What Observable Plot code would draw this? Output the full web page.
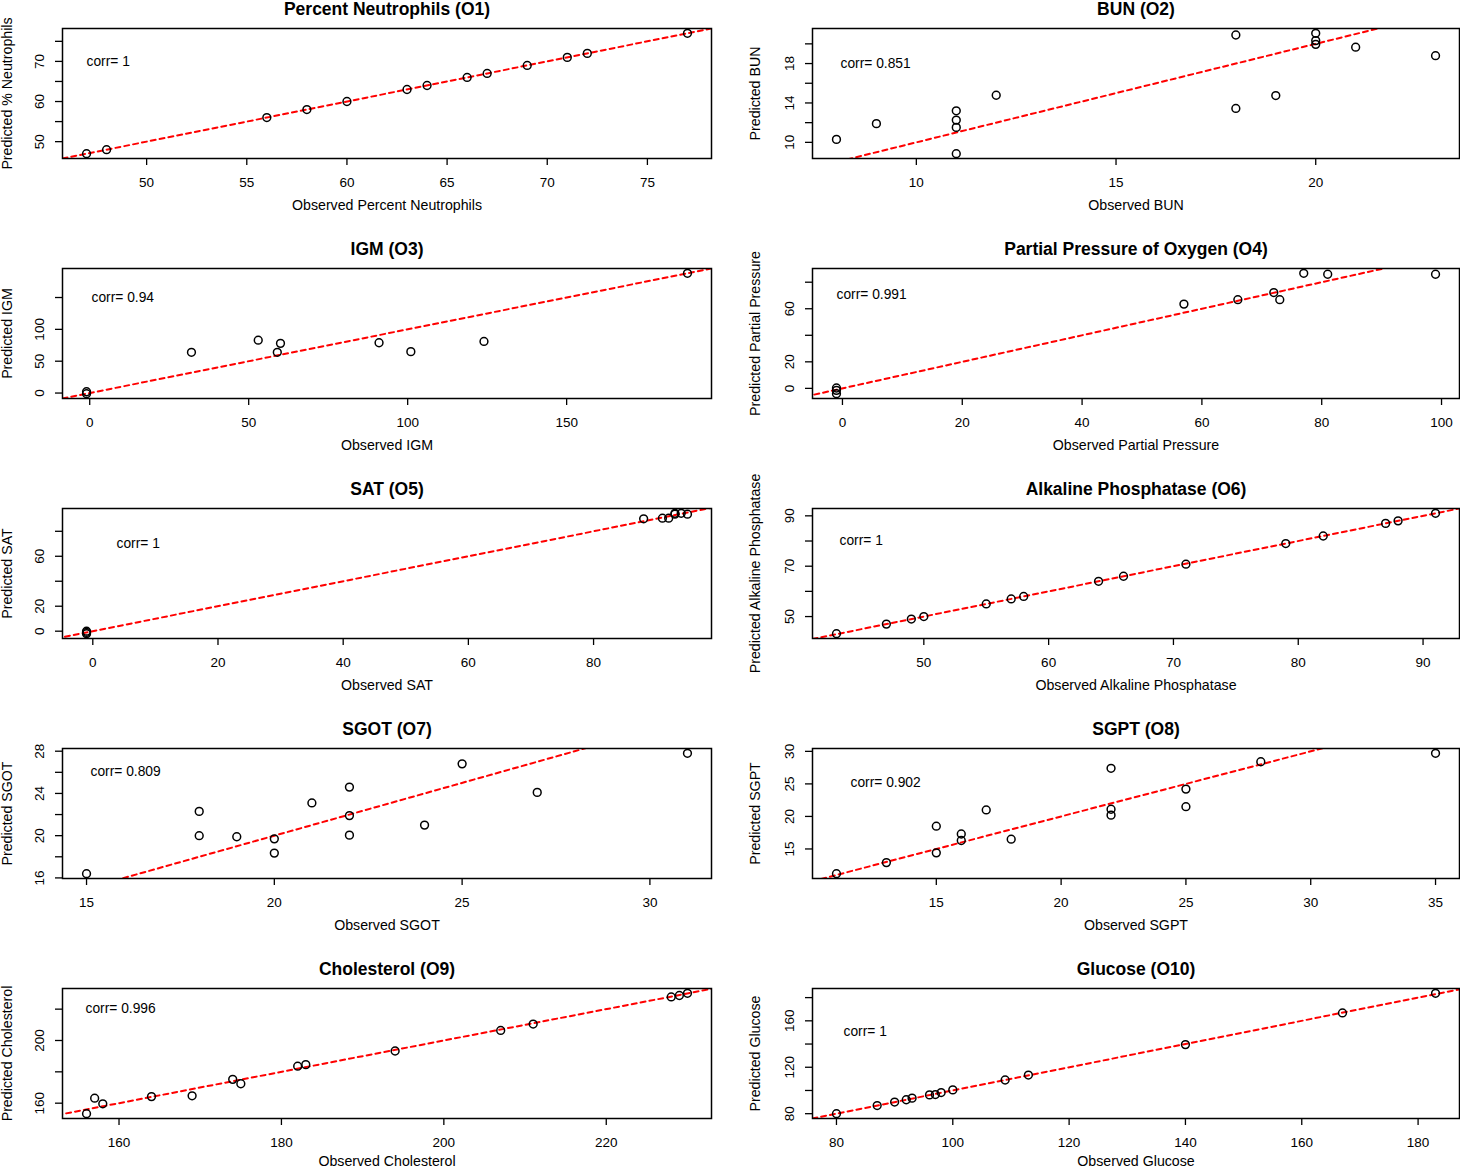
<!DOCTYPE html>
<html><head><meta charset="utf-8">
<script src="https://cdn.jsdelivr.net/npm/d3@7"></script>
<script src="https://cdn.jsdelivr.net/npm/@observablehq/plot@0.6"></script>
<style>
body{margin:0;background:#fff;}
#chart{position:relative;width:1460px;height:1170px;overflow:hidden;background:#fff;font-family:"Liberation Sans",Arial,Helvetica,sans-serif;}
#chart svg{position:absolute;}
</style></head><body><div id="chart"></div>
<script>
// ---- data ----
const titles = ["Percent Neutrophils (O1)","BUN (O2)","IGM (O3)","Partial Pressure of Oxygen (O4)","SAT (O5)","Alkaline Phosphatase (O6)","SGOT (O7)","SGPT (O8)","Cholesterol (O9)","Glucose (O10)"];
const xLabels = ["Observed Percent Neutrophils","Observed BUN","Observed IGM","Observed Partial Pressure","Observed SAT","Observed Alkaline Phosphatase","Observed SGOT","Observed SGPT","Observed Cholesterol","Observed Glucose"];
const yLabels = ["Predicted % Neutrophils","Predicted BUN","Predicted IGM","Predicted Partial Pressure","Predicted SAT","Predicted Alkaline Phosphatase","Predicted SGOT","Predicted SGPT","Predicted Cholesterol","Predicted Glucose"];
const corrs = ["1","0.851","0.94","0.991","1","1","0.809","0.902","0.996","1"];

const o1Obs  = [47,48,56,58,60,63,64,66,67,69,71,72,77];
const o1Pred = [47,48,56,58,60,63,64,66,67,69,71,72,77];
const o2Obs  = [8,9,11,11,11,11,12,18,18,19,20,20,20,21,23];
const o2Pred = [10.3,11.9,13.2,12.26,11.52,8.85,14.78,20.9,13.44,14.75,21.07,20.33,19.95,19.66,18.8];
const o3Obs  = [-1,-1,32,53,59,60,91,101,124,188];
const o3Pred = [2,-1,64,83,64,78,79,65,81,188];
const o4Obs  = [-1,-1,-1,57,66,72,73,77,81,99];
const o4Pred = [0.3,-1.5,-4,63.5,66.8,72.2,66.8,86.7,86,86];
const o5Obs  = [-1,-1,-1,88,91,92,93,93,94,95];
const o5Pred = [0,-1,-2,90,90.5,90.5,93.7,94.4,94.4,93.7];
const o6Obs  = [43,47,49,50,55,57,58,64,66,71,79,82,87,88,91];
const o6Pred = [43.2,47,49,50,55,57,58,64,66,70.8,79,82,87,88,91];
const o7Obs  = [15,18,18,19,20,20,21,22,22,22,24,25,27,31];
const o7Pred = [16.4,22.3,20.0,19.9,19.7,18.35,23.1,24.6,21.9,20.05,21.0,26.8,24.1,27.8];
const o8Obs  = [11,13,15,15,16,16,17,18,22,22,22,25,25,28,35];
const o8Pred = [11.2,12.9,18.5,14.4,17.3,16.3,21.0,16.5,27.4,21.1,20.2,24.2,21.5,28.4,29.7];
const o9Obs  = [156,157,158,164,169,174,175,182,183,194,207,211,228,229,230];
const o9Pred = [153.3,163.2,159.6,164.2,164.7,175.2,172.4,183.6,184.6,193.3,206.4,210.5,227.8,228.7,230.1];
const o10Obs = [80,87,90,92,93,96,97,98,100,109,113,140,167,183];
const o10Pred= [80,87,90,92,93.4,96.2,96.5,98.2,100.5,109,113.3,139.5,166.8,183.7];

const xTicks = [[50,55,60,65,70,75],[10,15,20],[0,50,100,150],[0,20,40,60,80,100],[0,20,40,60,80],[50,60,70,80,90],[15,20,25,30],[15,20,25,30,35],[160,180,200,220],[80,100,120,140,160,180]];
const yTicks = [[50,55,60,65,70,75],[10,12,14,16,18,20],[0,50,100,150],[0,20,40,60,80],[0,20,40,60,80],[50,60,70,80,90],[16,18,20,22,24,26,28],[15,20,25,30],[160,180,200,220],[80,100,120,140,160,180]];
const yTickLabels = [[50,60,70],[10,14,18],[0,50,100],[0,20,60],[0,20,60],[50,70,90],[16,20,24,28],[15,20,25,30],[160,200],[80,120,160]];

// ---- layout (pixel offsets of the corr label inside each frame) ----
const corrOffsets = [[24,33],[28,35],[29,29],[24,26],[54,35],[27,32],[28,23],[38,34],[23,20],[31,43]];

const obsAll = [o1Obs,o2Obs,o3Obs,o4Obs,o5Obs,o6Obs,o7Obs,o8Obs,o9Obs,o10Obs];
const predAll = [o1Pred,o2Pred,o3Pred,o4Pred,o5Pred,o6Pred,o7Pred,o8Pred,o9Pred,o10Pred];

function rDomain(v){const lo=d3.min(v),hi=d3.max(v),p=(hi-lo)*0.04;return [lo-p,hi+p];}

const chart = document.getElementById("chart");
const FONT = '"Liberation Sans", Arial, Helvetica, sans-serif';

titles.forEach((title,i)=>{
  const col=i%2,row=Math.floor(i/2);
  const obs=obsAll[i], pred=predAll[i];
  const xd=rDomain(obs), yd=rDomain(pred);
  const lo=Math.min(xd[0],yd[0]), hi=Math.max(xd[1],yd[1]);
  const pts=obs.map((o,j)=>({obs:o,pred:pred[j]}));
  const [cdx,cdy]=corrOffsets[i];
  const svg=Plot.plot({
    width:730,height:220,marginTop:38,marginBottom:52,
    marginLeft:col?82:62,marginRight:col?1:19,
    x:{domain:xd},y:{domain:yd},
    style:{fontFamily:FONT,fontSize:"13px",color:"black",background:"transparent",overflow:"visible"},
    marks:[
      Plot.line([[lo,lo],[hi,hi]],{stroke:"red",strokeWidth:2,strokeDasharray:"5,4",clip:true}),
      Plot.dot(pts,{x:"obs",y:"pred",r:3.9,stroke:"black",strokeWidth:1.5,fill:"none"}),
      Plot.frame({stroke:"black",strokeWidth:1.5}),
      Plot.axisX(xTicks[i],{tickSize:7,tickPadding:12,fontSize:13.5,label:null,strokeWidth:1.3}),
      Plot.axisY(yTicks[i],{tickSize:7,tickFormat:()=>"",label:null,strokeWidth:1.3}),
      Plot.text(yTickLabels[i],{y:d=>d,text:d=>String(d),frameAnchor:"left",rotate:-90,dx:-23,textAnchor:"middle",lineAnchor:"middle",fontSize:13.5,fill:"black"}),
      Plot.text([title],{frameAnchor:"top",dy:-19,lineAnchor:"middle",textAnchor:"middle",fontSize:17.5,fontWeight:"bold",fill:"black"}),
      Plot.text([xLabels[i]],{frameAnchor:"bottom",dy:row===4?43:47,lineAnchor:"middle",textAnchor:"middle",fontSize:14.2,fill:"black"}),
      Plot.text([yLabels[i]],{frameAnchor:"left",rotate:-90,dx:col?-57:-55,lineAnchor:"middle",textAnchor:"middle",fontSize:14.2,fill:"black"}),
      Plot.text(["corr= "+corrs[i]],{frameAnchor:"top-left",dx:cdx,dy:cdy,textAnchor:"start",lineAnchor:"middle",fontSize:13.8,fill:"black"})
    ]
  });
  svg.style.left=(col*730)+"px";
  svg.style.top=(row*240-10)+"px";
  chart.appendChild(svg);
});
</script></body></html>
